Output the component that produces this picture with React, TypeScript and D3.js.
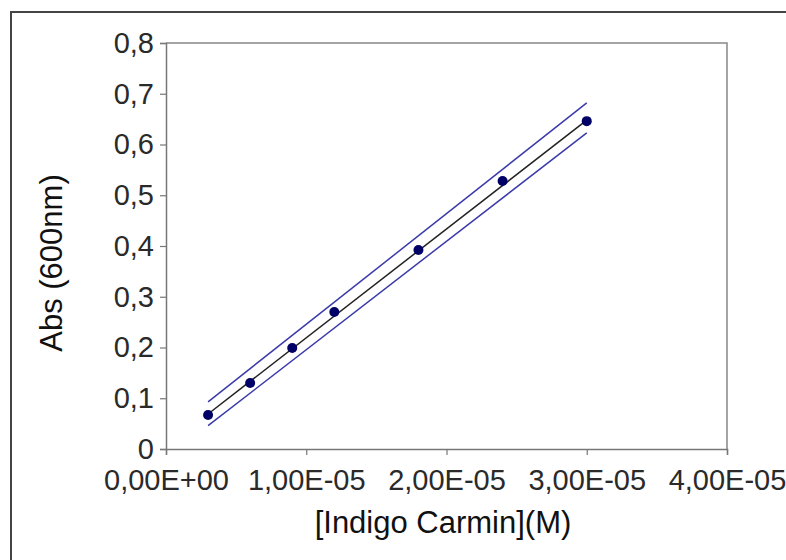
import React, { useEffect, useRef } from 'react';
import * as d3 from 'd3';

// measured calibration points
const concentrations = [3e-6, 6e-6, 9e-6, 1.2e-5, 1.8e-5, 2.4e-5, 3e-5];
const absorbances = [0.067, 0.13, 0.199, 0.27, 0.392, 0.528, 0.646];

// fit line and band end points
const lineX = [3e-6, 3e-5];
const fitY = [0.069, 0.648];
const upperY = [0.093, 0.682];
const lowerY = [0.046, 0.623];

const xTicks = [0, 1e-5, 2e-5, 3e-5, 4e-5];
const xTickLabels = ['0,00E+00', '1,00E-05', '2,00E-05', '3,00E-05', '4,00E-05'];
const yTicks = [0, 0.1, 0.2, 0.3, 0.4, 0.5, 0.6, 0.7, 0.8];
const yTickLabels = ['0', '0,1', '0,2', '0,3', '0,4', '0,5', '0,6', '0,7', '0,8'];

const xTitle = '[Indigo Carmin](M)';
const yTitle = 'Abs (600nm)';

const App = () => {
  const chartRef = useRef<SVGSVGElement>(null);

  useEffect(() => {
    const svg = d3.select(chartRef.current);
    svg.selectAll('*').remove();

    const font = '"Liberation Sans", Arial, sans-serif';
    const margin = { top: 43, right: 59, bottom: 111, left: 166 };
    const width = 786, height = 560;

    const x = d3.scaleLinear().domain([0, 4e-5]).range([margin.left, width - margin.right]);
    const y = d3.scaleLinear().domain([0, 0.8]).range([height - margin.bottom, margin.top]);

    // outer frame
    svg.append('rect')
      .attr('x', 11).attr('y', 12)
      .attr('width', 800).attr('height', 600)
      .attr('fill', 'white')
      .attr('stroke', '#444')
      .attr('stroke-width', 2);

    // plot border (top and right)
    svg.append('path')
      .attr('d', `M${x(0)},${y(0.8)}H${x(4e-5)}V${y(0)}`)
      .attr('fill', 'none')
      .attr('stroke', '#888')
      .attr('stroke-width', 1.5);

    const xAxis = svg.append('g')
      .attr('transform', `translate(0,${y(0)})`)
      .call(d3.axisBottom(x).tickValues(xTicks).tickSize(6).tickPadding(8)
        .tickFormat((d, i) => xTickLabels[i]));
    const yAxis = svg.append('g')
      .attr('transform', `translate(${x(0)},0)`)
      .call(d3.axisLeft(y).tickValues(yTicks).tickSize(6).tickPadding(6)
        .tickFormat((d, i) => yTickLabels[i]));

    [xAxis, yAxis].forEach(g => {
      g.select('.domain').attr('stroke', '#777').attr('stroke-width', 1.5);
      g.selectAll('.tick line').attr('stroke', '#777').attr('stroke-width', 1.2);
      g.selectAll('.tick text')
        .attr('fill', '#2a2a2a')
        .style('font-family', font)
        .style('font-size', '29px');
    });
    xAxis.selectAll('.tick text').attr('dy', '0.92em');

    const line = d3.line<[number, number]>().x(d => x(d[0])).y(d => y(d[1]));
    const bands = [
      { ys: upperY, color: '#3a3aaa', w: 1.5 },
      { ys: lowerY, color: '#3a3aaa', w: 1.5 },
      { ys: fitY, color: '#222', w: 1.5 },
    ];
    bands.forEach(b => {
      svg.append('path')
        .datum(lineX.map((v, i) => [v, b.ys[i]] as [number, number]))
        .attr('d', line)
        .attr('fill', 'none')
        .attr('stroke', b.color)
        .attr('stroke-width', b.w);
    });

    svg.selectAll('.pt')
      .data(concentrations)
      .enter().append('circle')
      .attr('class', 'pt')
      .attr('cx', d => x(d))
      .attr('cy', (d, i) => y(absorbances[i]))
      .attr('r', 5)
      .attr('fill', '#000066');

    svg.append('text')
      .attr('x', 443)
      .attr('y', 533)
      .attr('text-anchor', 'middle')
      .attr('fill', '#111')
      .style('font-family', font)
      .style('font-size', '31px')
      .text(xTitle);

    svg.append('text')
      .attr('transform', `translate(62,263) rotate(-90)`)
      .attr('text-anchor', 'middle')
      .attr('fill', '#111')
      .style('font-family', font)
      .style('font-size', '31px')
      .text(yTitle);
  }, []);

  return (
    <svg ref={chartRef} width={786} height={560}
      style={{ position: 'absolute', left: 0, top: 0, background: 'white' }} />
  );
};

export default App;
